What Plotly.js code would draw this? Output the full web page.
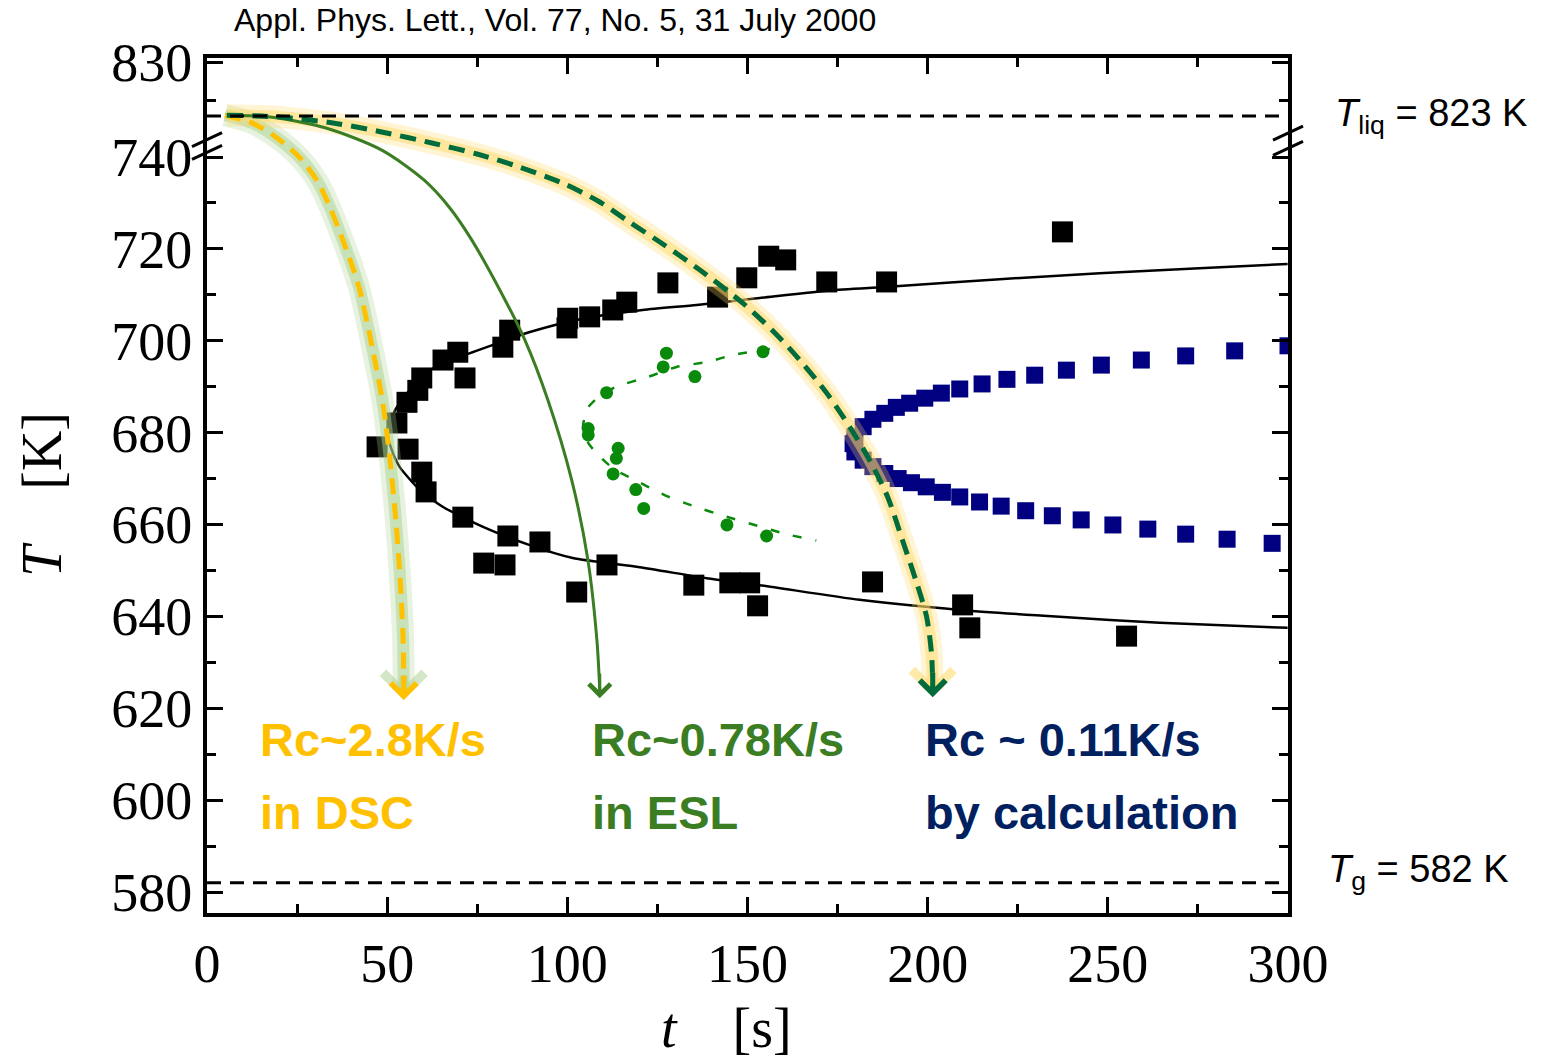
<!DOCTYPE html>
<html><head><meta charset="utf-8">
<script src="https://cdn.plot.ly/plotly-3.0.1.min.js"></script>
<style>html,body{margin:0;padding:0;background:#fff;}#chart{width:1542px;height:1062px;}</style>
</head><body><div id="chart"></div>
<script>
// ---- reference temperatures (K) ----
const T_LIQ = 823;
const T_G = 582;
// upper (broken) segment of the T axis: real K -> axis units
function upperSeg(T) { return 748.9 + (T - 823) * 1.67; }

// ---- axis ticks ----
const xTickVals = [0, 50, 100, 150, 200, 250, 300];
const xTickText = ['0', '50', '100', '150', '200', '250', '300'];
const yTickVals = [580, 600, 620, 640, 660, 680, 700, 720, 740, upperSeg(830)];
const yTickText = ['580', '600', '620', '640', '660', '680', '700', '720', '740', '830'];
const yMinorVals = [590, 610, 630, 650, 670, 690, 710, 730, upperSeg(825)];

// ---- measured crystallization onset (black squares) ----
const expT_t = [47.2,55.8,52.7,55.5,58.5,59.6,65.5,69.6,71.6,82.1,84.0,99.9,100.1,106.2,112.6,116.5,127.9,141.7,149.8,155.9,160.6,172.0,188.6,237.4,59.6,60.8,71.0,83.5,92.4,76.8,82.7,111.0,102.6,135.1,145.1,150.6,152.8,184.7,209.7,211.7,255.2];
const expT_T = [676.9,676.4,682.1,686.6,689.2,691.9,695.8,697.5,691.9,698.6,702.3,702.8,704.9,705.2,706.7,708.4,712.6,709.5,713.7,718.4,717.6,712.8,712.8,723.7,671.4,667.1,661.6,657.5,656.2,651.6,651.2,651.2,645.3,646.8,647.3,647.3,642.3,647.5,642.5,637.5,635.7];

// ---- fit through black squares (TTT nose) ----
const fit_t = [299.9,275.4,247.7,220.0,192.2,173.6,153.4,135.9,120.9,103.5,89.6,73.0,64.6,56.3,52.2,50.2,51.3,53.5,59.1,65.5,76.6,89.6,101.5,120.1,138.7,153.4,181.1,208.9,236.6,264.4,299.9];
const fit_T = [716.7,715.8,714.7,713.4,711.9,711.0,709.3,707.8,706.7,704.7,701.9,697.3,695.1,689.3,684.9,679.5,676.2,672.5,667.5,663.8,659.5,655.5,652.7,650.7,648.3,646.8,643.6,641.4,639.9,638.6,637.5];

// ---- ESL data (green dots) and its dashed fit ----
const esl_t = [127.5,126.6,135.4,154.3,110.9,105.8,105.8,114.1,113.6,112.7,119.0,121.2,144.3,155.3];
const esl_T = [697.3,694.3,692.2,697.6,688.7,680.9,679.5,676.6,674.4,671.0,667.6,663.5,659.9,657.5];
const eslFit_t = [156.2,145.9,139.0,130.3,122.3,113.6,109.0,105.8,104.6,104.3,106.2,109.5,113.2,118.2,127.0,135.4,144.2,152.0,160.8,169.1];
const eslFit_T = [698.2,696.9,695.4,694.3,692.1,690.0,688.0,685.5,682.7,680.1,677.3,674.4,671.9,669.9,666.4,663.9,661.7,659.9,657.9,656.5];

// ---- calculated TTT curve (navy squares) ----
const calc_t = [300,285.2,271.6,259.3,248.2,238.5,229.7,222.0,215.1,208.9,203.8,199.2,195.0,191.3,188.1,184.8,182.1,179.8,179.3,179.8,182.1,184.8,188.1,191.8,195.5,199.6,204.1,208.9,214.4,220.4,227.2,234.6,242.6,251.4,261.1,271.6,283.1,295.6];
const calc_T = [698.9,697.8,696.7,695.8,694.7,693.6,692.5,691.6,690.6,689.5,688.6,687.5,686.4,685.5,684.2,682.9,681.3,679.1,677.6,675.8,674.0,672.6,671.1,670.0,669.1,668.2,667.0,666.0,664.9,664.0,663.0,661.9,661.0,659.9,659.0,657.9,656.8,655.9];

// ---- critical cooling curves (arrows) ----
const coolDSC_t = [5.0,11.9,18.3,25.8,30.8,34.1,37.7,40.2,42.4,46.0,48.8,50.8,52.4,53.5,54.4,54.6];
const coolDSC_T = [749.1,747.6,744.8,739.8,734.5,729.1,721.9,716.5,711.0,698.0,686.4,674.0,661.0,649.4,635.5,624.0];
const coolESL_t = [5.0,17.5,33.0,48.5,60.2,67.4,73.5,81.3,88.2,94.6,101.2,105.7,108.2,109.0];
const coolESL_T = [749.1,748.7,746.3,741.5,735.0,728.9,721.9,711.0,700.2,687.1,669.7,652.3,634.9,624.0];
const coolCalc_t = [5.5,20.2,35.0,48.8,62.7,75.2,86.8,99.3,109.0,117.3,127.0,136.8,148.7,157.6,164.5,172.0,178.4,183.9,188.9,193.0,196.7,199.7,201.1,201.4];
const coolCalc_T = [749.1,748.7,747.4,745.4,743.0,740.6,737.8,734.1,730.2,725.8,720.8,715.4,708.2,701.7,695.8,688.6,681.2,674.0,666.0,656.6,647.9,639.9,631.6,624.0];
const arrowTip_t = [54.6, 109.0, 201.4];
const arrowTip_T = [621.8, 622.2, 622.4];

// ---- labels ----
const rateLabels = [
  {l1: 'Rc~2.8K/s', l2: 'in DSC', t: 14.1, color: '#FFC000'},
  {l1: 'Rc~0.78K/s', l2: 'in ESL', t: 106.2, color: '#3B7D23'},
  {l1: 'Rc ~ 0.11K/s', l2: 'by calculation', t: 198.6, color: '#002060'}
];

const YEL = '#FFC000', DKG = '#006B3C', ESLG = '#3B7D23', NAVY = '#000080', DOTG = '#0A8A0A';
const SPL = {shape: 'spline', smoothing: 0.8};

const traces = [
  {x: fit_t, y: fit_T, mode: 'lines', line: Object.assign({color: '#000', width: 2.5}, SPL, {smoothing: 0.6})},
  {x: expT_t, y: expT_T, mode: 'markers', marker: {symbol: 'square', size: 21, color: '#000'}},
  {x: eslFit_t, y: eslFit_T, mode: 'lines', line: Object.assign({color: DOTG, width: 2.5, dash: '9px,14px'}, SPL, {smoothing: 0.6})},
  {x: esl_t, y: esl_T, mode: 'markers', marker: {symbol: 'circle', size: 13, color: DOTG}},
  {x: calc_t, y: calc_T, mode: 'markers', marker: {symbol: 'square', size: 17, color: NAVY}},
  // glows
  {x: coolDSC_t, y: coolDSC_T, mode: 'lines', line: Object.assign({color: 'rgba(169,209,142,0.28)', width: 22}, SPL)},
  {x: coolDSC_t, y: coolDSC_T, mode: 'lines', line: Object.assign({color: 'rgba(169,209,142,0.5)', width: 12}, SPL)},
  {x: coolCalc_t, y: coolCalc_T, mode: 'lines', line: Object.assign({color: 'rgba(255,217,102,0.28)', width: 22}, SPL)},
  {x: coolCalc_t, y: coolCalc_T, mode: 'lines', line: Object.assign({color: 'rgba(255,217,102,0.5)', width: 12}, SPL)},
  // cooling curves
  {x: coolESL_t, y: coolESL_T, mode: 'lines', line: Object.assign({color: ESLG, width: 3}, SPL)},
  {x: coolDSC_t, y: coolDSC_T, mode: 'lines', line: Object.assign({color: YEL, width: 5, dash: '16px,9px'}, SPL)},
  {x: coolCalc_t, y: coolCalc_T, mode: 'lines', line: Object.assign({color: DKG, width: 5, dash: '16px,9px'}, SPL)}
];
traces.forEach(t => { t.showlegend = false; t.hoverinfo = 'skip'; });

const annotations = [];
// arrowheads (glow first)
const arrowCols = [YEL, ESLG, DKG];
const arrowGlow = ['rgba(169,209,142,0.5)', null, 'rgba(255,217,102,0.55)'];
const arrowW = [5, 3, 5];
const arrowS = [1, 1.4, 1];
arrowTip_t.forEach((t, i) => {
  if (arrowGlow[i]) annotations.push({x: t, y: arrowTip_T[i], ax: 0, ay: -26, text: '', showarrow: true,
    arrowhead: 4, arrowsize: 1, arrowwidth: 8, arrowcolor: arrowGlow[i], standoff: 0});
  annotations.push({x: t, y: arrowTip_T[i], ax: 0, ay: -26, text: '', showarrow: true,
    arrowhead: 4, arrowsize: arrowS[i], arrowwidth: arrowW[i], arrowcolor: arrowCols[i], standoff: 0});
});
rateLabels.forEach(r => {
  annotations.push({x: r.t, y: 613.1, xanchor: 'left', yanchor: 'middle', showarrow: false, text: r.l1,
    font: {family: 'Liberation Sans, Arial, sans-serif', size: 47, color: r.color, weight: 'bold'}});
  annotations.push({x: r.t, y: 597.4, xanchor: 'left', yanchor: 'middle', showarrow: false, text: r.l2,
    font: {family: 'Liberation Sans, Arial, sans-serif', size: 47, color: r.color, weight: 'bold'}});
});
// right side reference labels
annotations.push({xref: 'paper', x: 1, xshift: 45, y: upperSeg(T_LIQ), xanchor: 'left', yanchor: 'middle', showarrow: false,
  text: '<i>T</i><sub>liq</sub> = ' + T_LIQ + ' K', font: {family: 'Liberation Sans, Arial, sans-serif', size: 38, color: '#000'}});
annotations.push({xref: 'paper', x: 1, xshift: 38, y: 584.4, xanchor: 'left', yanchor: 'middle', showarrow: false,
  text: '<i>T</i><sub>g</sub> = ' + T_G + ' K', font: {family: 'Liberation Sans, Arial, sans-serif', size: 38, color: '#000'}});
// citation
annotations.push({xref: 'paper', yref: 'paper', x: 0.023, y: 1.0444, xanchor: 'left', yanchor: 'middle', showarrow: false,
  text: 'Appl. Phys. Lett., Vol. 77, No. 5, 31 July 2000', font: {family: 'Liberation Sans, Arial, sans-serif', size: 32, color: '#000'}});
// axis titles
const NB = '\u00a0';
annotations.push({xref: 'paper', yref: 'paper', x: 0, xshift: -165, y: 0.489, xanchor: 'center', yanchor: 'middle', textangle: -90, showarrow: false,
  text: '<i>T</i>' + NB.repeat(4) + '[K]', font: {family: 'Liberation Serif, Times New Roman, serif', size: 56, color: '#000'}});
annotations.push({xref: 'paper', yref: 'paper', x: 0.481, y: -0.134, xanchor: 'center', yanchor: 'middle', showarrow: false,
  text: '<i>t</i>' + NB.repeat(4) + '[s]', font: {family: 'Liberation Serif, Times New Roman, serif', size: 56, color: '#000'}});

// axis-break marks and reference lines
const shapes = [
  {type: 'line', xref: 'paper', x0: 0, x1: 1, yref: 'y', y0: upperSeg(T_LIQ), y1: upperSeg(T_LIQ), line: {color: '#000', width: 3, dash: '14px,9px'}},
  {type: 'line', xref: 'paper', x0: 0, x1: 1, yref: 'y', y0: T_G, y1: T_G, line: {color: '#000', width: 3, dash: '14px,9px'}}
];
[[0, 743.8], [0, 741.0], [1, 745.2], [1, 741.9]].forEach(b => {
  shapes.push({type: 'line', xref: 'paper', xsizemode: 'pixel', xanchor: b[0], x0: -15, x1: 15,
    yref: 'y', ysizemode: 'pixel', yanchor: b[1], y0: -7, y1: 7, line: {color: '#000', width: 3}});
});

const layout = {
  width: 1542, height: 1062,
  margin: {l: 207, r: 254, t: 58, b: 149, pad: 0},
  paper_bgcolor: '#fff', plot_bgcolor: '#fff',
  showlegend: false,
  xaxis: {range: [0, 300], tickmode: 'array', tickvals: xTickVals, ticktext: xTickText,
    showline: true, linecolor: '#000', linewidth: 4, mirror: 'allticks', ticks: 'inside', ticklen: 16, tickwidth: 3, tickcolor: '#000',
    showgrid: false, zeroline: false, ticklabelstandoff: 0,
    minor: {dtick: 25, tick0: 0, ticks: 'inside', ticklen: 9, tickwidth: 3, tickcolor: '#000', showgrid: false},
    tickfont: {family: 'Liberation Serif, Times New Roman, serif', size: 54, color: '#000'}},
  yaxis: {range: [575.43, 761.55], tickmode: 'array', tickvals: yTickVals, ticktext: yTickText,
    showline: true, linecolor: '#000', linewidth: 4, mirror: 'allticks', ticks: 'inside', ticklen: 16, tickwidth: 3, tickcolor: '#000',
    showgrid: false, zeroline: false, ticklabelstandoff: 0,
    minor: {tickmode: 'array', tickvals: yMinorVals, ticks: 'inside', ticklen: 9, tickwidth: 3, tickcolor: '#000', showgrid: false},
    tickfont: {family: 'Liberation Serif, Times New Roman, serif', size: 54, color: '#000'}},
  annotations: annotations,
  shapes: shapes
};

Plotly.newPlot('chart', traces, layout, {displayModeBar: false, staticPlot: true});
</script></body></html>
